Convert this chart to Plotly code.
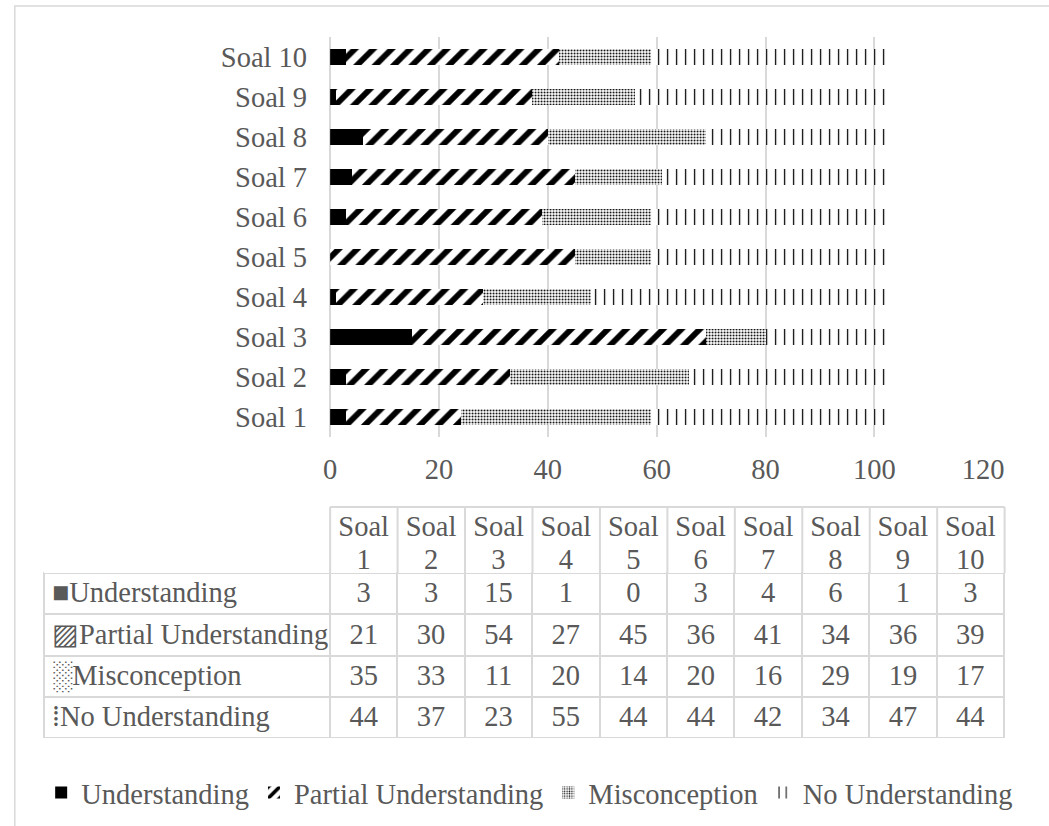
import numpy as np
import plotly.graph_objects as go

categories = ["Soal 1", "Soal 2", "Soal 3", "Soal 4", "Soal 5",
              "Soal 6", "Soal 7", "Soal 8", "Soal 9", "Soal 10"]
understanding = [3, 3, 15, 1, 0, 3, 4, 6, 1, 3]
partial = [21, 30, 54, 27, 45, 36, 41, 34, 36, 39]
misconception = [35, 33, 11, 20, 14, 20, 16, 29, 19, 17]
no_understanding = [44, 37, 23, 55, 44, 44, 42, 34, 47, 44]
series_names = ["Understanding", "Partial Understanding", "Misconception", "No Understanding"]
series_keys = ["■", "▨", "░", "⁞"]
x_ticks = [0, 20, 40, 60, 80, 100, 120]

W, H = 1049, 826
FONT = "Liberation Serif, Times New Roman, DejaVu Serif, serif"
FS = 28.5
GRAY = "#595959"
LINE = "#d9d9d9"

def px(x):
    return x / W

def py(y):
    return 1 - y / H

patterns = [
    None,
    dict(shape="/", size=13, solidity=0.45, fgcolor="black", bgcolor="white", fillmode="replace"),
    dict(shape=".", size=3, solidity=0.3, fgcolor="black", bgcolor="white", fillmode="replace"),
    dict(shape="|", size=9, solidity=0.14, fgcolor="black", bgcolor="white", fillmode="replace"),
]
values = [understanding, partial, misconception, no_understanding]

fig = go.Figure()
for name, vals, pat in zip(series_names, values, patterns):
    marker = dict(color="black" if pat is None else "white", line=dict(width=0))
    if pat is not None:
        marker["pattern"] = pat
    fig.add_trace(go.Bar(
        y=categories, x=vals, name=name, orientation="h",
        marker=marker, xaxis="x", yaxis="y",
    ))

# data table (two header rows: "Soal" / number)
TX0, TX1 = px(38), px(1025)
TOP, HEAD_H, ROW_H = 507, 33, 41.3
col_w = [294] + [69.3] * len(categories)
header_vals = [["", ""]] + [c.split(" ") for c in categories]
first_col = [k + n.replace(" ", "\u00a0") for k, n in zip(series_keys, series_names)]
cell_cols = [first_col]
for i in range(len(categories)):
    cell_cols.append([str(v[i]) for v in values])
table_bottom = TOP + 2 * HEAD_H + ROW_H * len(series_names)

fig.add_trace(go.Table(
    domain=dict(x=[TX0, TX1], y=[py(table_bottom), py(TOP)]),
    columnwidth=col_w,
    header=dict(
        values=header_vals,
        height=HEAD_H,
        align="center",
        line=dict(color="rgba(0,0,0,0)", width=0),
        fill=dict(color="white"),
        font=dict(family=FONT, size=FS, color=GRAY),
    ),
    cells=dict(
        values=cell_cols,
        height=ROW_H,
        align=["left"] + ["center"] * len(categories),
        line=dict(color=LINE, width=2),
        fill=dict(color="white"),
        font=dict(family=FONT, size=FS, color=GRAY),
    ),
))

# header grid lines (derived from the table's column widths)
tw = 1025 - 38
edges = 38 + np.concatenate([[0], np.cumsum(col_w)]) * tw / sum(col_w)
shapes = [dict(type="line", xref="paper", yref="paper",
               x0=px(edges[1]), x1=px(edges[-1]), y0=py(TOP), y1=py(TOP),
               line=dict(color=LINE, width=2))]
for e in edges[1:]:
    shapes.append(dict(type="line", xref="paper", yref="paper",
                       x0=px(e), x1=px(e), y0=py(TOP), y1=py(TOP + 2 * HEAD_H),
                       line=dict(color=LINE, width=2)))
# outer chart frame
shapes.append(dict(type="rect", xref="paper", yref="paper",
                   x0=px(8), y0=-0.05, x1=1.05, y1=py(6),
                   line=dict(color=LINE, width=1.5), fillcolor="rgba(0,0,0,0)", layer="below"))

fig.update_layout(
    width=W, height=H, autosize=False,
    margin=dict(l=0, r=0, t=0, b=0),
    paper_bgcolor="white", plot_bgcolor="white",
    barmode="stack", bargap=0.62,
    font=dict(family=FONT, size=FS, color=GRAY),
    xaxis=dict(
        domain=[px(332), px(1003)], range=[0, 120],
        tickvals=x_ticks, showgrid=True, gridcolor=LINE, gridwidth=1.5,
        zeroline=True, zerolinecolor=LINE, zerolinewidth=1.5,
        showline=False, ticks="", ticklabelstandoff=12,
        tickfont=dict(family=FONT, size=FS, color=GRAY),
        anchor="y",
    ),
    yaxis=dict(
        domain=[py(437), py(37)], showgrid=False, showline=False,
        ticks="", ticklabelstandoff=22,
        tickfont=dict(family=FONT, size=FS, color=GRAY),
        anchor="x",
    ),
    legend=dict(
        orientation="h", x=px(537), xanchor="center", y=py(793), yanchor="middle",
        font=dict(family=FONT, size=FS, color=GRAY), traceorder="normal",
        itemwidth=30,
    ),
    shapes=shapes,
)

fig.write_html("out.html")
